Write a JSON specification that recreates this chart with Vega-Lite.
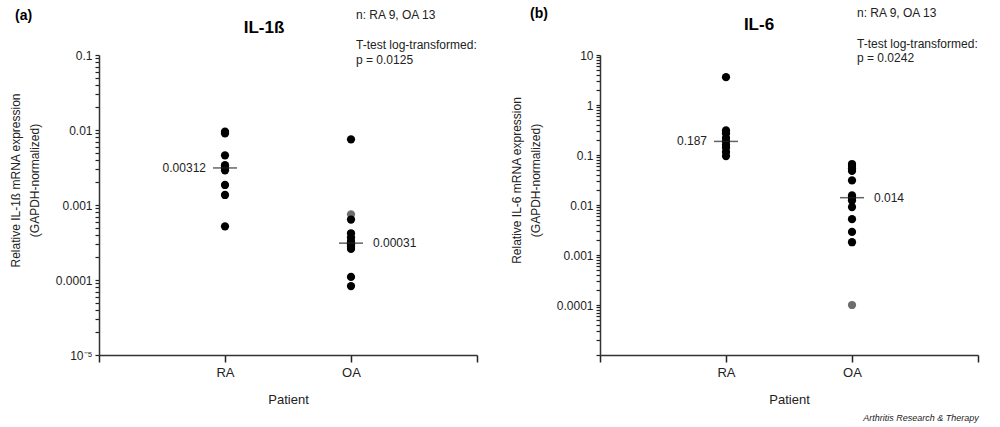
{
  "$schema": "https://vega.github.io/schema/vega-lite/v6.json",
  "padding": {"left": 9, "top": 7, "right": 5, "bottom": 0},
  "background": "white",
  "config": {
    "font": "Liberation Sans",
    "view": {"stroke": null},
    "axis": {"grid": false, "domainColor": "#333", "tickColor": "#222", "labelColor": "#222", "titleColor": "#222", "titleFontWeight": "normal", "domainWidth": 1.5}
  },
  "datasets": {
    "points": [
      {"panel": "a", "group": "RA", "value": 0.0095, "status": "measured"},
      {"panel": "a", "group": "RA", "value": 0.009, "status": "measured"},
      {"panel": "a", "group": "RA", "value": 0.0046, "status": "measured"},
      {"panel": "a", "group": "RA", "value": 0.0034, "status": "measured"},
      {"panel": "a", "group": "RA", "value": 0.00312, "status": "measured"},
      {"panel": "a", "group": "RA", "value": 0.0029, "status": "measured"},
      {"panel": "a", "group": "RA", "value": 0.00185, "status": "measured"},
      {"panel": "a", "group": "RA", "value": 0.00136, "status": "measured"},
      {"panel": "a", "group": "RA", "value": 0.00052, "status": "measured"},
      {"panel": "a", "group": "OA", "value": 0.0075, "status": "measured"},
      {"panel": "a", "group": "OA", "value": 0.00075, "status": "grey"},
      {"panel": "a", "group": "OA", "value": 0.00064, "status": "measured"},
      {"panel": "a", "group": "OA", "value": 0.00042, "status": "measured"},
      {"panel": "a", "group": "OA", "value": 0.00037, "status": "measured"},
      {"panel": "a", "group": "OA", "value": 0.00033, "status": "measured"},
      {"panel": "a", "group": "OA", "value": 0.00032, "status": "measured"},
      {"panel": "a", "group": "OA", "value": 0.00031, "status": "measured"},
      {"panel": "a", "group": "OA", "value": 0.0003, "status": "measured"},
      {"panel": "a", "group": "OA", "value": 0.00028, "status": "measured"},
      {"panel": "a", "group": "OA", "value": 0.00026, "status": "measured"},
      {"panel": "a", "group": "OA", "value": 0.00011, "status": "measured"},
      {"panel": "a", "group": "OA", "value": 0.000083, "status": "measured"},
      {"panel": "b", "group": "RA", "value": 3.6, "status": "measured"},
      {"panel": "b", "group": "RA", "value": 0.31, "status": "measured"},
      {"panel": "b", "group": "RA", "value": 0.27, "status": "measured"},
      {"panel": "b", "group": "RA", "value": 0.22, "status": "measured"},
      {"panel": "b", "group": "RA", "value": 0.187, "status": "measured"},
      {"panel": "b", "group": "RA", "value": 0.16, "status": "measured"},
      {"panel": "b", "group": "RA", "value": 0.14, "status": "measured"},
      {"panel": "b", "group": "RA", "value": 0.115, "status": "measured"},
      {"panel": "b", "group": "RA", "value": 0.095, "status": "measured"},
      {"panel": "b", "group": "OA", "value": 0.066, "status": "measured"},
      {"panel": "b", "group": "OA", "value": 0.06, "status": "measured"},
      {"panel": "b", "group": "OA", "value": 0.054, "status": "measured"},
      {"panel": "b", "group": "OA", "value": 0.048, "status": "measured"},
      {"panel": "b", "group": "OA", "value": 0.031, "status": "measured"},
      {"panel": "b", "group": "OA", "value": 0.0155, "status": "measured"},
      {"panel": "b", "group": "OA", "value": 0.014, "status": "measured"},
      {"panel": "b", "group": "OA", "value": 0.0123, "status": "measured"},
      {"panel": "b", "group": "OA", "value": 0.0091, "status": "measured"},
      {"panel": "b", "group": "OA", "value": 0.0052, "status": "measured"},
      {"panel": "b", "group": "OA", "value": 0.0029, "status": "measured"},
      {"panel": "b", "group": "OA", "value": 0.0018, "status": "measured"},
      {"panel": "b", "group": "OA", "value": 0.0001, "status": "grey"}
    ],
    "medians": [
      {"panel": "a", "group": "RA", "median": 0.00312},
      {"panel": "a", "group": "OA", "median": 0.00031},
      {"panel": "b", "group": "RA", "median": 0.187},
      {"panel": "b", "group": "OA", "median": 0.014}
    ],
    "notes": [
      {"panel": "a", "group": "OA", "y": 0.341, "text": "n: RA 9, OA 13"},
      {"panel": "a", "group": "OA", "y": 0.136, "text": "T-test log-transformed:"},
      {"panel": "a", "group": "OA", "y": 0.0858, "text": "p = 0.0125"},
      {"panel": "b", "group": "OA", "y": 69, "text": "n: RA 9, OA 13"},
      {"panel": "b", "group": "OA", "y": 16.6, "text": "T-test log-transformed:"},
      {"panel": "b", "group": "OA", "y": 8.7, "text": "p = 0.0242"}
    ],
    "letters": [
      {"panel": "a", "group": "start", "y": 0.331, "text": "(a)"},
      {"panel": "b", "group": "start", "y": 66, "text": "(b)"}
    ],
    "headings": [
      {"panel": "a", "group": "RA", "y": 0.229, "text": "IL-1ß"},
      {"panel": "b", "group": "RA", "y": 39.8, "text": "IL-6"}
    ]
  },
  "title": {"text": "Arthritis Research & Therapy", "orient": "bottom", "anchor": "end", "fontSize": 9, "fontStyle": "italic", "fontWeight": "normal", "color": "#222", "offset": 8},
  "spacing": 123,
  "bounds": "flush",
  "resolve": {"scale": {"x": "independent", "y": "independent", "color": "independent"}},
  "hconcat": [
    {
      "width": 378,
      "height": 300,
      "layer": [
        {
          "data": {"name": "points"},
          "transform": [{"filter": "datum.panel == 'a'"}],
          "mark": {"type": "circle", "size": 68, "opacity": 1},
          "encoding": {
            "x": {"field": "group", "type": "ordinal",
              "scale": {"type": "point", "domain": ["start", "RA", "OA", "end"], "padding": 0},
              "axis": {"title": "Patient", "titleFontSize": 13, "titlePadding": 14, "labelAngle": 0, "labelFontSize": 13, "labelPadding": 4, "tickSize": 7, "tickWidth": 1.5,
                "labelExpr": "datum.value == 'RA' || datum.value == 'OA' ? datum.value : ''"}},
            "y": {"field": "value", "type": "quantitative",
              "scale": {"type": "log", "domain": [0.00001, 0.1], "nice": false},
              "axis": {
                "title": ["Relative IL-1ß mRNA expression", "(GAPDH-normalized)"],
                "titleFontSize": 12, "titleLineHeight": 19, "titlePadding": 14, "titleY": 125,
                "labelFontSize": 12, "labelPadding": 3, "tickSize": 4, "tickWidth": 1.2, "labelOverlap": false,
                "values": [0.00001,0.00002,0.00003,0.00004,0.00005,0.00006,0.00007,0.00008,0.00009,0.0001,0.0002,0.0003,0.0004,0.0005,0.0006,0.0007,0.0008,0.0009,0.001,0.002,0.003,0.004,0.005,0.006,0.007,0.008,0.009,0.01,0.02,0.03,0.04,0.05,0.06,0.07,0.08,0.09,0.1],
                "labelExpr": "indexof([0.1, 0.01, 0.001, 0.0001], datum.value) >= 0 ? format(datum.value, '~g') : (datum.value == 0.00001 ? '10⁻⁵' : '')"
              }},
            "color": {"field": "status", "type": "nominal", "scale": {"domain": ["measured", "grey"], "range": ["#000000", "#6e6e6e"]}, "legend": null}
          }
        },
        {
          "data": {"name": "medians"},
          "transform": [{"filter": "datum.panel == 'a'"}],
          "mark": {"type": "tick", "orient": "horizontal", "size": 24, "thickness": 1.5, "color": "#222"},
          "encoding": {
            "x": {"field": "group", "type": "ordinal"},
            "y": {"field": "median", "type": "quantitative"}
          }
        },
        {
          "data": {"name": "medians"},
          "transform": [{"filter": "datum.panel == 'a' && datum.group == 'RA'"}],
          "mark": {"type": "text", "align": "right", "baseline": "middle", "dx": -19, "fontSize": 12, "color": "#222"},
          "encoding": {
            "x": {"field": "group", "type": "ordinal"},
            "y": {"field": "median", "type": "quantitative"},
            "text": {"field": "median", "type": "quantitative", "format": "~g"}
          }
        },
        {
          "data": {"name": "medians"},
          "transform": [{"filter": "datum.panel == 'a' && datum.group == 'OA'"}],
          "mark": {"type": "text", "align": "left", "baseline": "middle", "dx": 22, "fontSize": 12, "color": "#222"},
          "encoding": {
            "x": {"field": "group", "type": "ordinal"},
            "y": {"field": "median", "type": "quantitative"},
            "text": {"field": "median", "type": "quantitative", "format": "~g"}
          }
        },
        {
          "data": {"name": "notes"},
          "transform": [{"filter": "datum.panel == 'a'"}],
          "mark": {"type": "text", "align": "left", "baseline": "middle", "dx": 5, "fontSize": 12, "color": "#222"},
          "encoding": {
            "x": {"field": "group", "type": "ordinal"},
            "y": {"field": "y", "type": "quantitative"},
            "text": {"field": "text", "type": "nominal"}
          }
        },
        {
          "data": {"name": "letters"},
          "transform": [{"filter": "datum.panel == 'a'"}],
          "mark": {"type": "text", "align": "left", "baseline": "middle", "dx": -84, "fontSize": 14, "fontWeight": "bold", "color": "#000"},
          "encoding": {
            "x": {"field": "group", "type": "ordinal"},
            "y": {"field": "y", "type": "quantitative"},
            "text": {"field": "text", "type": "nominal"}
          }
        },
        {
          "data": {"name": "headings"},
          "transform": [{"filter": "datum.panel == 'a'"}],
          "mark": {"type": "text", "align": "center", "baseline": "middle", "dx": 39, "fontSize": 17, "fontWeight": "bold", "color": "#000"},
          "encoding": {
            "x": {"field": "group", "type": "ordinal"},
            "y": {"field": "y", "type": "quantitative"},
            "text": {"field": "text", "type": "nominal"}
          }
        }
      ]
    },
    {
      "width": 378,
      "height": 300,
      "layer": [
        {
          "data": {"name": "points"},
          "transform": [{"filter": "datum.panel == 'b'"}],
          "mark": {"type": "circle", "size": 68, "opacity": 1},
          "encoding": {
            "x": {"field": "group", "type": "ordinal",
              "scale": {"type": "point", "domain": ["start", "RA", "OA", "end"], "padding": 0},
              "axis": {"title": "Patient", "titleFontSize": 13, "titlePadding": 14, "labelAngle": 0, "labelFontSize": 13, "labelPadding": 4, "tickSize": 7, "tickWidth": 1.5,
                "labelExpr": "datum.value == 'RA' || datum.value == 'OA' ? datum.value : ''"}},
            "y": {"field": "value", "type": "quantitative",
              "scale": {"type": "log", "domain": [0.00001, 10], "nice": false},
              "axis": {
                "title": ["Relative IL-6 mRNA expression", "(GAPDH-normalized)"],
                "titleFontSize": 12, "titleLineHeight": 19, "titlePadding": 14, "titleY": 125,
                "labelFontSize": 12, "labelPadding": 3, "tickSize": 4, "tickWidth": 1.2, "labelOverlap": false,
                "values": [0.00001,0.00002,0.00003,0.00004,0.00005,0.00006,0.00007,0.00008,0.00009,0.0001,0.0002,0.0003,0.0004,0.0005,0.0006,0.0007,0.0008,0.0009,0.001,0.002,0.003,0.004,0.005,0.006,0.007,0.008,0.009,0.01,0.02,0.03,0.04,0.05,0.06,0.07,0.08,0.09,0.1,0.2,0.3,0.4,0.5,0.6,0.7,0.8,0.9,1,2,3,4,5,6,7,8,9,10],
                "labelExpr": "indexof([10, 1, 0.1, 0.01, 0.001, 0.0001], datum.value) >= 0 ? format(datum.value, '~g') : ''"
              }},
            "color": {"field": "status", "type": "nominal", "scale": {"domain": ["measured", "grey"], "range": ["#000000", "#6e6e6e"]}, "legend": null}
          }
        },
        {
          "data": {"name": "medians"},
          "transform": [{"filter": "datum.panel == 'b'"}],
          "mark": {"type": "tick", "orient": "horizontal", "size": 24, "thickness": 1.5, "color": "#222"},
          "encoding": {
            "x": {"field": "group", "type": "ordinal"},
            "y": {"field": "median", "type": "quantitative"}
          }
        },
        {
          "data": {"name": "medians"},
          "transform": [{"filter": "datum.panel == 'b' && datum.group == 'RA'"}],
          "mark": {"type": "text", "align": "right", "baseline": "middle", "dx": -19, "fontSize": 12, "color": "#222"},
          "encoding": {
            "x": {"field": "group", "type": "ordinal"},
            "y": {"field": "median", "type": "quantitative"},
            "text": {"field": "median", "type": "quantitative", "format": "~g"}
          }
        },
        {
          "data": {"name": "medians"},
          "transform": [{"filter": "datum.panel == 'b' && datum.group == 'OA'"}],
          "mark": {"type": "text", "align": "left", "baseline": "middle", "dx": 22, "fontSize": 12, "color": "#222"},
          "encoding": {
            "x": {"field": "group", "type": "ordinal"},
            "y": {"field": "median", "type": "quantitative"},
            "text": {"field": "median", "type": "quantitative", "format": "~g"}
          }
        },
        {
          "data": {"name": "notes"},
          "transform": [{"filter": "datum.panel == 'b'"}],
          "mark": {"type": "text", "align": "left", "baseline": "middle", "dx": 5, "fontSize": 12, "color": "#222"},
          "encoding": {
            "x": {"field": "group", "type": "ordinal"},
            "y": {"field": "y", "type": "quantitative"},
            "text": {"field": "text", "type": "nominal"}
          }
        },
        {
          "data": {"name": "letters"},
          "transform": [{"filter": "datum.panel == 'b'"}],
          "mark": {"type": "text", "align": "left", "baseline": "middle", "dx": -70, "fontSize": 14, "fontWeight": "bold", "color": "#000"},
          "encoding": {
            "x": {"field": "group", "type": "ordinal"},
            "y": {"field": "y", "type": "quantitative"},
            "text": {"field": "text", "type": "nominal"}
          }
        },
        {
          "data": {"name": "headings"},
          "transform": [{"filter": "datum.panel == 'b'"}],
          "mark": {"type": "text", "align": "center", "baseline": "middle", "dx": 33, "fontSize": 17, "fontWeight": "bold", "color": "#000"},
          "encoding": {
            "x": {"field": "group", "type": "ordinal"},
            "y": {"field": "y", "type": "quantitative"},
            "text": {"field": "text", "type": "nominal"}
          }
        }
      ]
    }
  ]
}
